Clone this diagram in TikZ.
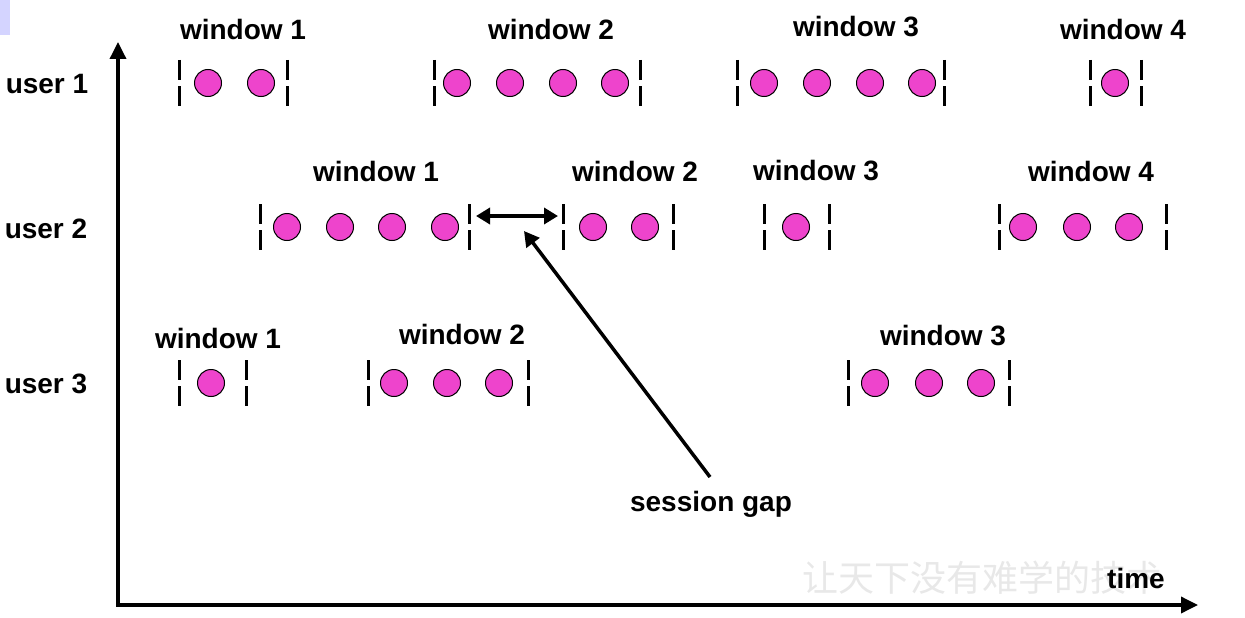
\documentclass[tikz,border=0pt]{standalone}
\usepackage{fontspec}
\setmainfont{Liberation Sans}
\newfontfamily\cjk{Noto Sans CJK SC}
\usetikzlibrary{arrows.meta}
\definecolor{evpink}{RGB}{238,68,204}
\definecolor{lav}{RGB}{212,212,255}
\newcommand{\evwin}[8]{%
  \coordinate (#1L) at (#3,#2);
  \coordinate (#1R) at (#4,#2);
  \draw[barline] (#3,#2-23) -- (#3,#2+23);
  \draw[barline] (#4,#2-23) -- (#4,#2+23);
  \foreach \cx [count=\i] in {#5} {\node[ev] (#1c\i) at (\cx,#2) {};}
  \node[lbl] (#1t) at (#6,#7) {#8};
}
\begin{document}
\begin{tikzpicture}[x=1pt,y=-1pt,
  lbl/.style={font=\fontsize{28}{28}\selectfont\bfseries, inner sep=0pt},
  ev/.style={circle, draw=black, line width=1pt, fill=evpink, minimum size=27pt, inner sep=0pt},
  barline/.style={line width=3pt, dash pattern=on 20pt off 6pt},
  ax/.style={line width=3.5pt, -{Triangle[length=17pt,width=16pt]}},
  thick arrow/.style={line width=3.5pt, -{Triangle[length=15pt,width=16pt]}},
  dbl arrow/.style={line width=3.5pt, {Triangle[length=14pt,width=16pt]}-{Triangle[length=14pt,width=16pt]}},
]
\useasboundingbox (0,0) rectangle (1245,618);
\fill[lav] (0,0) rectangle (10,35);

% watermark
\node[font=\cjk\fontsize{36}{36}\selectfont, text=black!9, inner sep=0pt] (wm) at (982,578) {让天下没有难学的技术};

% axes
\coordinate (origin) at (118,605);
\coordinate (ytop) at (118,42);
\coordinate (xend) at (1198,605);
\draw[ax] (origin) -- (ytop);
\draw[ax] ([xshift=-1.75pt]origin) -- (xend);
\node[lbl] (time) at (1136,578) {time};

% user labels
\node[lbl] (u1) at (47,84) {user 1};
\node[lbl] (u2) at (46,229) {user 2};
\node[lbl] (u3) at (46,384) {user 3};

% user 1
\evwin{aa}{83}{179}{287}{208,261}{243}{29}{window 1}
\evwin{ab}{83}{434}{640}{457,510,563,615}{551}{29}{window 2}
\evwin{ac}{83}{737}{944}{764,817,870,922}{856}{27}{window 3}
\evwin{ad}{83}{1090}{1141}{1115}{1123}{29}{window 4}

% user 2
\evwin{ba}{227}{260}{469}{287,340,392,445}{376}{171}{window 1}
\evwin{bb}{227}{563}{673}{593,645}{635}{171}{window 2}
\evwin{bc}{227}{764}{829}{796}{816}{171}{window 3}
\evwin{bd}{227}{999}{1166}{1023,1077,1129}{1091}{171}{window 4}

% user 3
\evwin{ca}{383}{179}{246}{211}{218}{338}{window 1}
\evwin{cb}{383}{368}{528}{394,447,499}{462}{334}{window 2}
\evwin{cc}{383}{848}{1009}{875,929,981}{943}{336}{window 3}

% session gap
\coordinate (gapL) at (476,216);
\coordinate (gapR) at (558,216);
\draw[dbl arrow] (gapL) -- (gapR);
\node[lbl] (sg) at (711,504) {session gap};
\coordinate (sgtail) at (710,477);
\coordinate (sgtip) at (524,231);
\draw[thick arrow] (sgtail) -- (sgtip);
\end{tikzpicture}
\end{document}
